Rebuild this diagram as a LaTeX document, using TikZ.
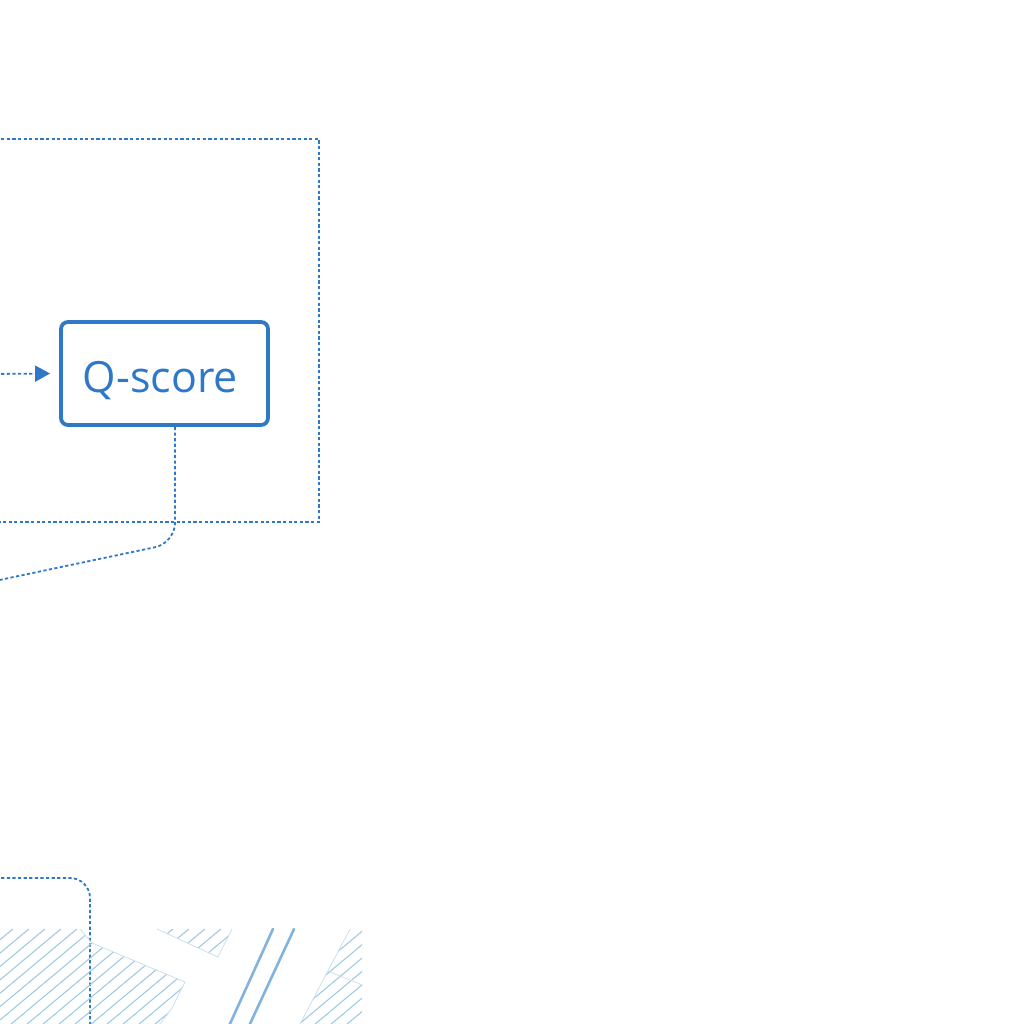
\documentclass[tikz,border=0pt]{standalone}
\usepackage{fontspec}
\setmainfont{Open Sans}
\usetikzlibrary{arrows.meta,calc}
\definecolor{qblue}{HTML}{2F78C8}
\definecolor{hatchblue}{HTML}{A2CBE2}
\definecolor{lineblue}{HTML}{6CA6D8}
\tikzset{
  dotline/.style={draw=qblue, line width=1.8pt, dash pattern=on 3.2pt off 2.4pt},
  qbox/.style={draw=qblue, line width=3.8pt, rounded corners=7pt, minimum width=207pt, minimum height=103pt, inner sep=0pt},
  qtext/.style={inner sep=0pt, text=qblue, font=\fontsize{43}{50}\selectfont},
  hatchedge/.style={draw=hatchblue!60, line width=0.8pt},
  hatchline/.style={draw=hatchblue, line width=1.1pt},
  diagline/.style={draw=lineblue, line width=2.6pt, line cap=round, opacity=0.85}
}
\begin{document}
\begin{tikzpicture}[x=1pt,y=-1pt]
\useasboundingbox (0,0) rectangle (1024,1024);
\clip (0,0) rectangle (1024,1024);
% group frame
\draw[dotline] (-10,139) -- (319,139) -- (319,522) -- (-10,522);
% Q-score box
\node[qbox] (q) at (164.5,373.5) {};
\node[qtext, anchor=base] (qt) at ($(q.center)+(-4,19)$) {Q-score};
\coordinate (inL) at (-10,374);
\draw[dotline, -{Triangle[length=15pt,width=16pt,sep=0pt]}] (inL) -- ($(q.west)+(-9,0)$);
% connector from Q-score down-left
\coordinate (qs) at ($(q.south)+(10.5,0)$);
\coordinate (outL) at (-10,582);
\draw[dotline, rounded corners=20pt] (qs) -- (175,543) -- (outL);
% bottom connector
\coordinate (bL) at (-10,878);
\coordinate (bB) at (90,1034);
\draw[dotline, rounded corners=20pt] (bL) -- (90,878) -- (bB);
% hatched regions
\begin{scope}
\clip (0,929) -- (80,929) -- (92,943) -- (185,982) -- (172,1008) -- (160,1024) -- (0,1024) -- cycle;
\foreach \i in {-200,-184,...,200} \draw[hatchline] (\i,1040) -- ++(140,-117);
\end{scope}
\draw[hatchedge] (80,929) -- (92,943) -- (185,982) -- (172,1008) -- (160,1024);
\begin{scope}
\clip (157,929) -- (232,929) -- (218,957) -- cycle;
\foreach \i in {40,56,...,260} \draw[hatchline] (\i,1040) -- ++(140,-117);
\end{scope}
\draw[hatchedge] (157,929) -- (218,957) -- (232,929);
\begin{scope}
\clip (350,929) -- (362,929) -- (362,1024) -- (300,1024) -- cycle;
\foreach \i in {200,216,...,400} \draw[hatchline] (\i,1040) -- ++(140,-117);
\draw[hatchedge] (325,970) -- (370,988);
\end{scope}
\draw[hatchedge] (350,929) -- (300,1024);
% diagonal lines
\coordinate (d1a) at (273,929); \coordinate (d1b) at (229,1026);
\coordinate (d2a) at (294,929); \coordinate (d2b) at (249,1026);
\draw[diagline] (d1a) -- (d1b);
\draw[diagline] (d2a) -- (d2b);
\end{tikzpicture}
\end{document}
